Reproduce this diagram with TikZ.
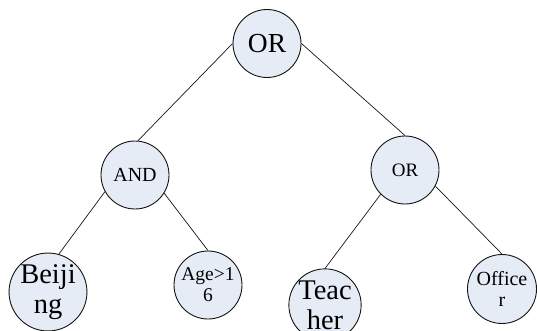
\documentclass[tikz,border=0pt]{standalone}
\usepackage{fontspec}
\setmainfont{Liberation Serif}
\definecolor{nodefill}{RGB}{230,236,246}
\definecolor{edgeink}{RGB}{20,20,20}
\begin{document}
\begin{tikzpicture}[x=1pt,y=-1pt,
  gate/.style={circle,draw=edgeink,line width=0.9pt,fill=nodefill,
    minimum size=68pt,inner sep=0pt,align=center},
  link/.style={draw=edgeink,line width=0.7pt},
  fs/.style 2 args={font=\fontsize{#1}{#2}\selectfont}]
  \useasboundingbox (0,0) rectangle (537,331);
  \clip (0,0) rectangle (537,331);

  % logic tree
  \node[gate,fs={27.5}{29}] (root) at (267,43.5) {OR};
  \node[gate,fs={20}{21}] (andn) at (135,175) {AND};
  \node[gate,fs={19}{20}] (orn) at (405,170) {OR};
  \node[gate,fs={28.5}{30},minimum size=70pt] (beijing) at (48,292) {Beiji\\ng};
  \node[gate,fs={19.5}{21}] (age) at (208,285) {Age>1\\6};
  \node[gate,fs={28.5}{30},minimum size=70pt] (teacher) at (325,305) {Teac\\her};
  \node[gate,fs={20}{21.5},minimum size=69pt] (officer) at (502,289) {Office\\r};

  % connectors
  \draw[link] (root.180) -- (andn.85);
  \draw[link] (root.0) -- (orn.90);
  \draw[link] (andn.209) -- (beijing.74);
  \draw[link] (andn.328) -- (age.90);
  \draw[link] (orn.225) -- (teacher.90);
  \draw[link] (orn.332) -- (officer.90);
\end{tikzpicture}
\end{document}
